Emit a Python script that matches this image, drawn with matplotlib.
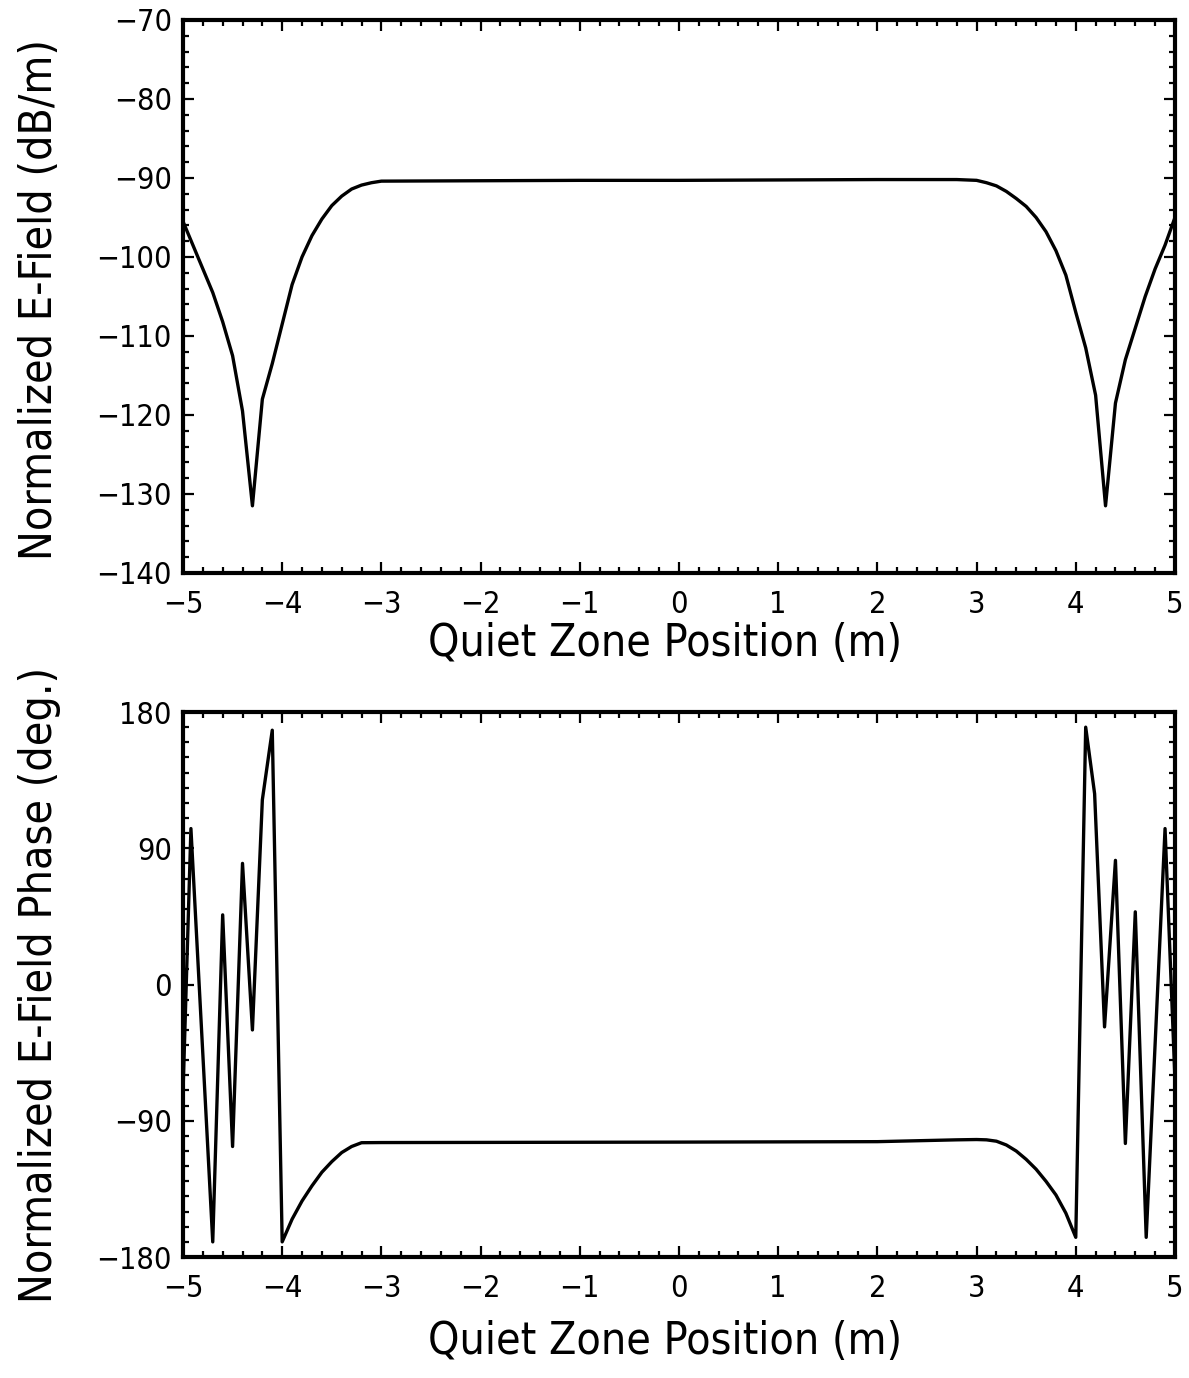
import matplotlib
matplotlib.use("Agg")
import matplotlib.pyplot as plt
from matplotlib import font_manager
from matplotlib.ticker import MultipleLocator

# the scan uses a narrow plotter font; use DejaVu condensed if it's there
cond = any(f.name == 'DejaVu Sans' and f.stretch == 'condensed'
           for f in font_manager.fontManager.ttflist)
plt.rcParams['font.family'] = ['DejaVu Sans']
plt.rcParams['font.stretch'] = 'condensed' if cond else 'normal'
lab_size = 32 if cond else 28
tick_size = 22 if cond else 20

# ---- data ----
# top: normalized E-field magnitude (dB/m)
mag_x = [-5.0, -4.9, -4.8, -4.7, -4.6, -4.5, -4.4, -4.3, -4.2, -4.1, -4.0,
         -3.9, -3.8, -3.7, -3.6, -3.5, -3.4, -3.3, -3.2, -3.1, -3.0,
         -2.0, -1.0, 0.0, 1.0, 2.0, 2.8,
         3.0, 3.1, 3.2, 3.3, 3.4, 3.5, 3.6, 3.7, 3.8, 3.9, 4.0,
         4.1, 4.2, 4.3, 4.4, 4.5, 4.6, 4.7, 4.8, 4.9, 5.0]
mag_db = [-95.5, -98.5, -101.5, -104.5, -108.2, -112.5, -119.5, -131.5, -118.0, -113.5, -108.5,
          -103.5, -100.0, -97.3, -95.2, -93.5, -92.3, -91.4, -90.9, -90.6, -90.4,
          -90.35, -90.3, -90.3, -90.25, -90.2, -90.2,
          -90.3, -90.6, -91.0, -91.7, -92.6, -93.6, -95.0, -96.8, -99.2, -102.3, -107.0,
          -111.5, -117.5, -131.5, -118.5, -113.0, -109.0, -105.0, -101.5, -98.5, -95.0]

# bottom: normalized E-field phase (deg.)
ph_x = [-5.0, -4.92, -4.70, -4.60, -4.50, -4.40, -4.30, -4.20, -4.10, -4.00,
        -3.9, -3.8, -3.7, -3.6, -3.5, -3.4, -3.3, -3.2, -3.0,
        -2.0, 0.0, 2.0, 2.8, 3.0, 3.1,
        3.2, 3.3, 3.4, 3.5, 3.6, 3.7, 3.8, 3.9, 4.0,
        4.10, 4.19, 4.29, 4.40, 4.50, 4.60, 4.71, 4.90, 5.0]
ph_deg = [-72, 103, -170, 46, -107, 80, -30, 122, 168, -170,
          -155, -143, -133, -124, -117, -111, -107, -104.5, -104.4,
          -104.3, -104.1, -103.8, -102.6, -102.4, -102.6,
          -103.5, -106, -110, -115.5, -122, -130, -139, -151, -167,
          170, 126, -28, 82, -105, 48, -167, 103, -63]

x_ticks = [-5, -4, -3, -2, -1, 0, 1, 2, 3, 4, 5]
mag_ticks = [-140, -130, -120, -110, -100, -90, -80, -70]
ph_ticks = [-180, -90, 0, 90, 180]

fig = plt.figure(figsize=(11.89, 13.78), dpi=100)
ax1 = fig.add_axes([0.1539, 0.5842, 0.8343, 0.4013])
ax2 = fig.add_axes([0.1539, 0.0878, 0.8343, 0.3955])


def style(ax, yminor):
    ax.xaxis.set_minor_locator(MultipleLocator(0.2))
    ax.yaxis.set_minor_locator(MultipleLocator(yminor))
    ax.tick_params(which='both', direction='in', top=True, right=True, width=1.6)
    ax.tick_params(which='major', length=8, labelsize=tick_size)
    ax.tick_params(axis='y', which='major', pad=8)
    ax.tick_params(axis='x', which='major', pad=12)
    ax.tick_params(which='minor', length=4)
    for s in ax.spines.values():
        s.set_linewidth(3)


ax1.plot(mag_x, mag_db, color='black', lw=2.4)
ax1.set_xlim(-5, 5)
ax1.set_ylim(-140, -70)
ax1.set_xticks(x_ticks)
ax1.set_yticks(mag_ticks)
style(ax1, 2)

ax2.plot(ph_x, ph_deg, color='black', lw=2.4)
ax2.set_xlim(-5, 5)
ax2.set_ylim(-180, 180)
ax2.set_xticks(x_ticks)
ax2.set_yticks(ph_ticks)
style(ax2, 10)

fig.text(40 / 1189, 1 - 300 / 1378, 'Normalized E-Field (dB/m)', rotation=90,
         ha='center', va='center', fontsize=lab_size)
fig.text(40 / 1189, 1 - 985 / 1378, 'Normalized E-Field Phase (deg.)', rotation=90,
         ha='center', va='center', fontsize=lab_size)
fig.text(665 / 1189, 1 - 643 / 1378, 'Quiet Zone Position (m)',
         ha='center', va='center', fontsize=lab_size)
fig.text(665 / 1189, 1 - 1342 / 1378, 'Quiet Zone Position (m)',
         ha='center', va='center', fontsize=lab_size)

fig.savefig('out.png', dpi=100)
